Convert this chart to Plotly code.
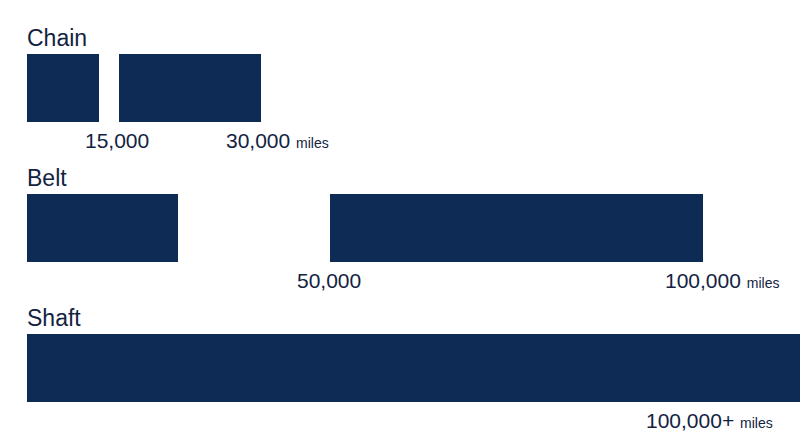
import plotly.graph_objects as go

# rows, top to bottom
rows = ["Chain", "Belt", "Shaft"]

# bar segments per row, in track units (0 = left edge, 100 = right edge)
seg_row = [0, 0, 1, 1, 2]
seg_start = [0, 11.9, 0, 39.2, 0]
seg_end = [9.3, 30.3, 19.5, 87.5, 100]

# interval labels under the bars (left edge of each label, track units)
lab_row = [0, 0, 1, 1, 2]
lab_pos = [7.5, 25.7, 34.9, 82.5, 80.1]
lab_text = ["15,000", "30,000", "50,000", "100,000", "100,000+"]
lab_unit = [False, True, False, True, True]

NAVY = "#0e2b56"
TEXT = "#13233f"
FONT = "Liberation Sans, Arial, Helvetica, sans-serif"

fig = go.Figure()
fig.add_trace(go.Bar(
    orientation="h",
    y=seg_row,
    base=seg_start,
    x=[e - s for s, e in zip(seg_start, seg_end)],
    width=0.486,
    marker=dict(color=NAVY, line=dict(width=0)),
    hoverinfo="skip",
    showlegend=False,
))

for i, name in enumerate(rows):
    fig.add_annotation(
        x=0, y=i, xref="x", yref="y", text=name, showarrow=False,
        xanchor="left", yanchor="middle", yshift=50, xshift=-2,
        font=dict(family=FONT, size=23, color=TEXT),
    )

for r, p, t, u in zip(lab_row, lab_pos, lab_text, lab_unit):
    txt = t + (" <span style='font-size:14px'>miles</span>" if u else "")
    fig.add_annotation(
        x=p, y=r, xref="x", yref="y", text=txt, showarrow=False,
        xanchor="left", yanchor="middle", yshift=-52, xshift=-2,
        font=dict(family=FONT, size=21, color=TEXT),
    )

fig.update_layout(
    width=800, height=447,
    margin=dict(l=27, r=0, t=0, b=0),
    paper_bgcolor="white", plot_bgcolor="white",
    bargap=0,
    xaxis=dict(range=[0, 100], visible=False, fixedrange=True),
    yaxis=dict(range=[2.564, -0.629], visible=False, fixedrange=True),
)

# drop the default page margin so the figure fills the window
fig.write_html(
    "out.html",
    config={"displayModeBar": False},
    post_script="document.body.style.margin='0';document.body.style.overflow='hidden';",
)
